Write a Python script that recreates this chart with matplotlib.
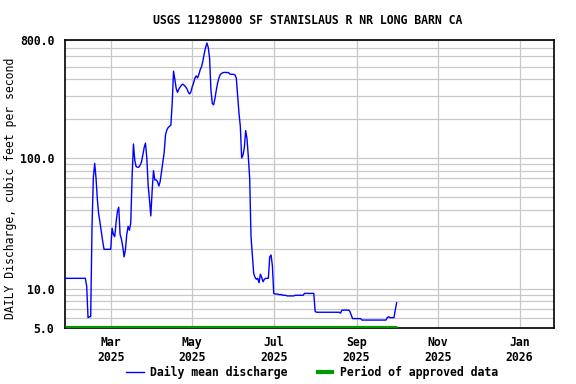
import matplotlib
matplotlib.use("Agg")
import matplotlib.pyplot as plt
from matplotlib.ticker import FixedLocator, LogLocator, NullFormatter
from matplotlib.lines import Line2D
import pandas as pd

# daily mean discharge, cfs, starting 2025-01-26
flow = [
    12, 12, 12, 12, 12, 12, 12, 12, 12, 12, 12, 12, 12, 12, 12, 12,
    10.5, 6.0, 6.1, 6.1, 30, 71, 91, 70, 48, 37, 32, 27, 23, 20,
    20, 20, 20, 20, 20, 29, 26, 25, 32, 39, 42, 26, 24, 21, 17.5, 19.8,
    26, 30, 28, 32, 72, 128, 96, 86, 85, 85, 88, 93, 105, 120,
    130, 100, 62, 48, 36, 56, 80, 68, 68, 66, 61, 66, 78, 93, 110, 150,
    164, 171, 175, 178, 260, 462, 400, 340, 318, 337, 350, 362, 367, 360,
    351, 339, 320, 309, 320, 351, 374, 409, 425, 410, 437, 475, 500, 553,
    630, 700, 759, 700, 580, 332, 262, 255, 285, 330, 375, 410, 435, 444,
    450, 452, 452, 450, 452, 440, 437, 437, 437, 432, 409, 303, 220, 175,
    100, 105, 120, 162, 140, 102, 70, 25, 18, 13.1, 12.2, 11.8, 12, 11.1,
    12.9, 12.2, 11.3, 11.8, 12, 12, 12, 17.5, 18.1, 15, 9.2, 9.1, 9.1, 9.1,
    9.0, 9.0, 9.0, 8.9, 8.9, 8.9, 8.8, 8.8, 8.8, 8.8, 8.8, 8.8,
    8.9, 8.9, 8.9, 8.9, 8.9, 8.9, 8.9,
    9.2, 9.2, 9.2, 9.2, 9.2, 9.2, 9.2, 9.2,
    6.7, 6.6, 6.6, 6.6, 6.6, 6.6, 6.6, 6.6, 6.6, 6.6, 6.6, 6.6, 6.6,
    6.6, 6.6, 6.6, 6.6, 6.6, 6.6, 6.5, 6.85, 6.85, 6.85, 6.85, 6.85, 6.85,
    6.7, 6.3, 5.9, 5.9, 5.9, 5.9, 5.9, 5.9, 5.9,
    5.75, 5.75, 5.75, 5.75, 5.75, 5.75, 5.75, 5.75, 5.75, 5.75,
    5.75, 5.75, 5.75, 5.75, 5.75, 5.75, 5.75, 5.75, 5.75,
    6.0, 6.1, 6.0, 6.0, 6.0, 6.0, 6.9, 7.8,
]
dates = pd.date_range("2025-01-26", periods=len(flow), freq="D")

approved_start = "2025-01-26"
approved_end = "2025-10-01"

ytick_vals = [5, 10, 100, 800]
ytick_labels = ["5.0", "10.0", "100.0", "800.0"]
xtick_dates = ["2025-03-01", "2025-05-01", "2025-07-01", "2025-09-01", "2025-11-01", "2026-01-01"]
xtick_labels = ["Mar\n2025", "May\n2025", "Jul\n2025", "Sep\n2025", "Nov\n2025", "Jan\n2026"]

plt.rcParams["font.family"] = "DejaVu Sans Mono"
plt.rcParams["font.weight"] = "bold"
plt.rcParams["font.size"] = 8.3

fig = plt.figure(figsize=(5.76, 3.84), dpi=100)
ax = fig.add_axes([65.3 / 576, 1 - 328 / 384, 489 / 576, 288 / 384])

ax.plot(dates, flow, color="#0000ff", lw=1.0, zorder=3)
ax.plot(pd.to_datetime([approved_start, approved_end]), [5.13, 5.13],
        color="#009900", lw=2.3, solid_capstyle="butt", zorder=4)

ax.set_yscale("log")
ax.set_ylim(5, 800)
ax.set_xlim(pd.Timestamp("2025-01-26"), pd.Timestamp("2026-01-27"))

ax.yaxis.set_major_locator(FixedLocator(ytick_vals))
ax.set_yticklabels(ytick_labels)
ax.yaxis.set_minor_locator(LogLocator(base=10, subs=range(2, 10)))
ax.yaxis.set_minor_formatter(NullFormatter())
ax.set_xticks(pd.to_datetime(xtick_dates))
ax.set_xticklabels(xtick_labels)
ax.tick_params(axis="both", which="both", length=0)
ax.tick_params(axis="y", pad=8)
ax.tick_params(axis="x", pad=6)

ax.grid(True, which="both", axis="y", color="#c8c8c8", lw=0.9)
ax.grid(True, which="major", axis="x", color="#c8c8c8", lw=0.9)
ax.set_axisbelow(True)
for s in ax.spines.values():
    s.set_linewidth(1.2)

ax.set_ylabel("DAILY Discharge, cubic feet per second")
ax.yaxis.set_label_coords(-0.099, 0.484)
fig.text(308 / 576, 1 - 20.5 / 384, "USGS 11298000 SF STANISLAUS R NR LONG BARN CA",
         ha="center", va="center")

handles = [Line2D([], [], color="#0000ff", lw=1.0),
           Line2D([], [], color="#009900", lw=3.0, solid_capstyle="butt")]
fig.legend(handles, ["Daily mean discharge", "Period of approved data"],
           loc="center", bbox_to_anchor=(312 / 576, 1 - 372.5 / 384), ncol=2,
           frameon=False, handlelength=1.55, handletextpad=0.5, columnspacing=2.5,
           borderaxespad=0, borderpad=0)

fig.savefig("out.png", dpi=100)
